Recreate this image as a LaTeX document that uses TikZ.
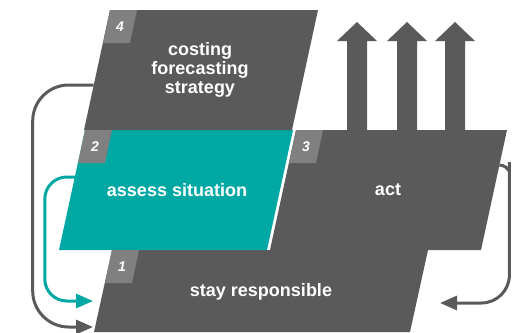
\documentclass[tikz,border=0pt]{standalone}
\usepackage{fontspec}
\setmainfont{Liberation Sans}
\usepackage{tikz}
\usetikzlibrary{arrows.meta,positioning}
\definecolor{cycgray}{RGB}{90,90,90}
\definecolor{cycteal}{RGB}{0,168,163}
\definecolor{cyctab}{RGB}{128,128,128}
\tikzset{
    stage/.style={fill=cycgray},
    active/.style={fill=cycteal},
    tab/.style={fill=cyctab},
    num/.style={text=white, font=\fontsize{14}{14}\selectfont\bfseries\itshape, inner sep=0pt},
    boxtext/.style={text=white, font=\fontsize{18}{19}\selectfont\bfseries, align=center, inner sep=0pt},
    line/.style={draw, line width=3pt, -{Triangle[length=17pt,width=14pt]}}
}

\begin{document}
\begin{tikzpicture}[x=1pt, y=-1pt]
    \useasboundingbox (0,0) rectangle (522,332);
    % Action arrows
    \foreach \x in {357,407,455}
        \fill[stage] (\x-10,130) -- (\x-10,41) -- (\x-20,41) -- (\x,22) -- (\x+20,41) -- (\x+10,41) -- (\x+10,130) -- cycle;

    % Stages
    \fill[stage] (112,250) -- ++(316,0) -- ++(-18,82) -- ++(-316,0) -- cycle;
    \fill[stage] (296,130) -- ++(211,0) -- ++(-26,120) -- ++(-211,0) -- cycle;
    \fill[active] (85,130) -- ++(208,0) -- ++(-26,120) -- ++(-208,0) -- cycle;
    \fill[stage] (110,10) -- ++(208,0) -- ++(-26,120) -- ++(-208,0) -- cycle;

    % Number tabs
    \fill[tab] (110,10) -- ++(27,0) -- ++(-7,33) -- ++(-27,0) -- cycle;
    \fill[tab] (85,130) -- ++(27,0) -- ++(-7,33) -- ++(-27,0) -- cycle;
    \fill[tab] (296,130) -- ++(27,0) -- ++(-7,33) -- ++(-27,0) -- cycle;
    \fill[tab] (112,250) -- ++(27,0) -- ++(-7,33) -- ++(-27,0) -- cycle;
    \node[num] (n4) at (120,26.5) {4};
    \node[num] (n2) at (95,146.5) {2};
    \node[num] (n3) at (306,146.5) {3};
    \node[num] (n1) at (122,266.5) {1};

    % Stage texts
    \node[boxtext] (strategy) at (200,70) {costing\\forecasting\\strategy};
    \node[boxtext] (assess) at (177,190) {assess situation};
    \node[boxtext] (act) at (388,190) {act};
    \node[boxtext] (stay) at (261,292) {stay responsible};

    % Feedback loops
    \coordinate (from4) at (93.7,85);
    \coordinate (to1a) at (93,327);
    \coordinate (from2) at (74.8,177);
    \coordinate (to1b) at (93,301);
    \coordinate (from3) at (499.4,165);
    \coordinate (to1c) at (440,303);
    \path [line, cycgray, rounded corners=36pt] (from4) -- ++(-61,0) |- (to1a);
    \path [line, cycteal, rounded corners=22pt] (from2) -- ++(-30,0) |- (to1b);
    \path [line, cycgray, rounded corners=28pt] (from3) to[out=0,in=90] ++(10,25) |- (to1c);
\end{tikzpicture}
\end{document}
